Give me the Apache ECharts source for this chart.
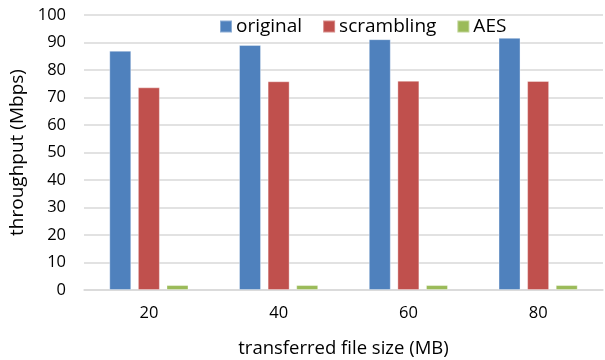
<!DOCTYPE html>
<html><head><meta charset="utf-8">
<script src="https://cdn.jsdelivr.net/npm/echarts@6/dist/echarts.min.js"></script>
<style>html,body{margin:0;padding:0;background:#fff}#c{width:605px;height:360px}</style>
</head><body><div id="c"></div>
<script>
const categories = ['20', '40', '60', '80'];
const original = [87.0, 89.1, 91.2, 91.7];
const scrambling = [73.7, 75.9, 76.1, 76.0];
const aes = [1.8, 1.8, 1.8, 1.8];
const yTicks = [0, 10, 20, 30, 40, 50, 60, 70, 80, 90, 100];

const FONT = "'Open Sans', sans-serif";
const chart = echarts.init(document.getElementById('c'), null, {renderer: 'canvas'});
const mkSeries = (name, data, color) => ({
  name, type: 'bar', data, barWidth: 22, barGap: '30%',
  itemStyle: {color, borderColor: 'rgba(255,255,255,0.35)', borderWidth: 1},
  emphasis: {disabled: true}
});
chart.setOption({
  animation: false,
  textStyle: {fontFamily: FONT},
  grid: {left: 84, right: 2, top: 15, bottom: 70, containLabel: false, outerBoundsMode: 'none'},
  legend: {
    left: 214, top: 12, itemWidth: 12, itemHeight: 12, itemGap: 20,
    icon: 'rect',
    textStyle: {fontFamily: FONT, fontSize: 19, color: '#000', padding: [0, 0, 0, -1]},
    data: ['original', 'scrambling', 'AES']
  },
  xAxis: {
    type: 'category', data: categories,
    name: 'transferred file size (MB)', nameLocation: 'middle', nameGap: 49,
    nameTextStyle: {fontFamily: FONT, fontSize: 18.5, color: '#000'},
    axisTick: {show: false},
    axisLine: {lineStyle: {color: '#D9D9D9', width: 1.5}},
    axisLabel: {fontFamily: FONT, fontSize: 16.5, color: '#000', margin: 15}
  },
  yAxis: {
    type: 'value', min: yTicks[0], max: yTicks[yTicks.length - 1], interval: 10,
    name: 'throughput (Mbps)', nameLocation: 'middle', nameGap: 55, nameRotate: 90,
    nameTextStyle: {fontFamily: FONT, fontSize: 19, color: '#000'},
    axisLine: {show: false}, axisTick: {show: false},
    splitLine: {lineStyle: {color: '#D9D9D9', width: 1.5}},
    axisLabel: {fontFamily: FONT, fontSize: 16.5, color: '#000', margin: 18}
  },
  series: [
    mkSeries('original', original, '#4F81BD'),
    mkSeries('scrambling', scrambling, '#C0504D'),
    mkSeries('AES', aes, '#9BBB59')
  ]
});
</script></body></html>
